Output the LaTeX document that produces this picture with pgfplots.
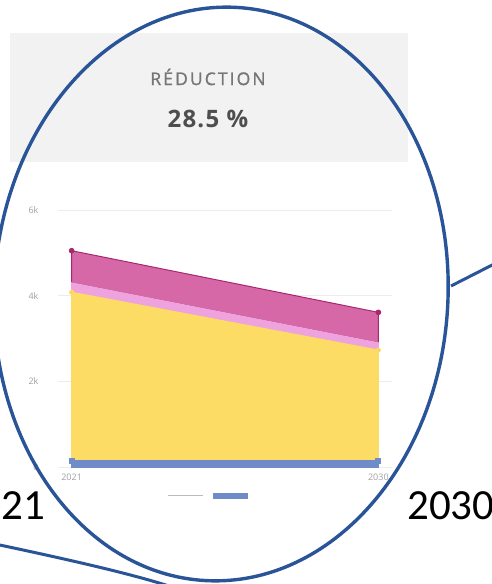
\documentclass[border=0pt]{standalone}
\usepackage{fontspec}
\setmainfont{Open Sans}
\newfontfamily\bigfont{Carlito}
\usepackage{pgfplots}
\pgfplotsset{compat=1.18}

\definecolor{boxgray}{RGB}{242,242,242}
\definecolor{ringblue}{RGB}{42,84,152}
\definecolor{areaYellow}{RGB}{252,220,100}
\definecolor{areaPink}{RGB}{238,162,222}
\definecolor{areaMagenta}{RGB}{214,104,168}
\definecolor{lineMagenta}{RGB}{168,40,110}
\definecolor{areaBlue}{RGB}{112,140,200}
\definecolor{tickgray}{RGB}{160,160,160}
\definecolor{gridgray}{RGB}{236,236,236}
\definecolor{titlegray}{RGB}{118,118,118}
\definecolor{valuegray}{RGB}{78,78,78}

\begin{document}
\begin{tikzpicture}[x=1pt,y=1pt]
\path[use as bounding box] (0,0) rectangle (492,584);
\begin{scope}
\clip (0,0) rectangle (492,584);

% KPI card
\fill[boxgray] (10,422) rectangle (408,551);
\node[text=titlegray, inner sep=0pt] at (208,507)
  {\fontsize{17.5}{20}\selectfont\addfontfeature{LetterSpace=12,FakeBold=1.2}RÉDUCTION};
\node[text=valuegray, inner sep=0pt] at (208,465)
  {\fontsize{24}{28}\selectfont\bfseries\addfontfeature{LetterSpace=5}28.5 \%};

% stacked emissions areas
\begin{axis}[
  at={(58pt,117pt)}, anchor=south west,
  scale only axis, width=334pt, height=257pt,
  xmin=2020.6, xmax=2030.4, ymin=0, ymax=6000,
  stack plots=y,
  axis line style={draw=none},
  major tick length=0pt,
  ymajorgrids, grid style={gridgray, line width=0.8pt},
  ytick={0,2000,4000,6000}, yticklabels={0,2k,4k,6k},
  xtick={2021,2030}, xticklabels={2021,2030},
  tick label style={text=tickgray, font=\fontsize{9}{10}\selectfont},
  yticklabel style={xshift=-16pt},
  xticklabel style={yshift=-3pt},
  clip=false,
]
\addplot[fill=areaBlue, draw=areaBlue, line width=2pt,
  mark=square*, mark size=2.5pt, mark options={fill=areaBlue, draw=areaBlue, line width=0pt}]
  coordinates {(2021,150) (2030,150)} \closedcycle;
\addplot[fill=areaYellow, draw=areaYellow, line width=1pt,
  mark=*, mark size=2pt, mark options={fill=areaYellow!90!orange, draw=none}]
  coordinates {(2021,3930) (2030,2580)} \closedcycle;
\addplot[fill=areaPink, draw=areaPink, line width=1pt]
  coordinates {(2021,220) (2030,170)} \closedcycle;
\addplot[fill=areaMagenta, draw=lineMagenta, line width=1pt,
  mark=*, mark size=2.3pt, mark options={fill=lineMagenta, draw=none}]
  coordinates {(2021,750) (2030,710)} \closedcycle;
\end{axis}

% legend swatches
\draw[tickgray!70, line width=1pt] (168,88) -- (203,88);
\fill[areaBlue] (213,85) rectangle (248,91);

% hand-drawn ring and pointer strokes
\draw[ringblue, line width=3.4pt, rotate around={-3:(221,290)}]
  (221,290) ellipse [x radius=227, y radius=287];
\draw[ringblue, line width=3pt] (451,298) -- (500,323);
\draw[ringblue, line width=3pt] (-5,40) .. controls (80,22) and (140,8) .. (178,-5);

% year captions
\node[anchor=base east, inner sep=0pt] at (45,64) {\bigfont\fontsize{43}{48}\selectfont 2021};
\node[anchor=base west, inner sep=0pt] at (407,64) {\bigfont\fontsize{43}{48}\selectfont 2030};
\end{scope}
\end{tikzpicture}
\end{document}
